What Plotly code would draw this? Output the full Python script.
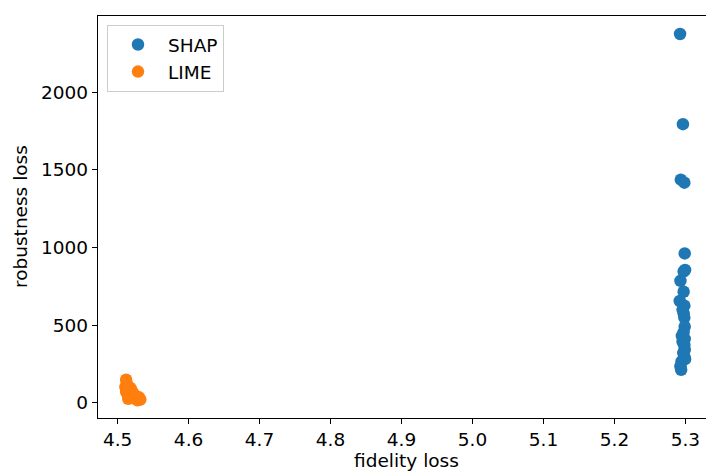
import plotly.graph_objects as go

# Loss values per explanation run
shap_fidelity = [5.2925, 5.2965, 5.2935, 5.2985, 5.2990, 5.2995, 5.2975, 5.2930, 5.2975,
                 5.2920, 5.2985, 5.2960, 5.2975, 5.2985, 5.2990, 5.2975, 5.2950, 5.2990,
                 5.2960, 5.2985, 5.2990, 5.2970, 5.2985, 5.2995, 5.2945, 5.2930, 5.2940]
shap_robustness = [2376, 1795, 1437, 1418, 962, 855, 845, 785, 715,
                   655, 625, 600, 575, 548, 490, 455, 430, 410,
                   392, 370, 340, 320, 295, 280, 265, 235, 212]

lime_fidelity = [4.512, 4.513, 4.511, 4.515, 4.512, 4.518, 4.520, 4.514, 4.516,
                 4.522, 4.525, 4.520, 4.530, 4.532, 4.528, 4.515]
lime_robustness = [148, 120, 100, 85, 70, 95, 75, 55, 40,
                   60, 45, 30, 35, 20, 15, 25]

x_ticks = [4.5, 4.6, 4.7, 4.8, 4.9, 5.0, 5.1, 5.2, 5.3]
y_ticks = [0, 500, 1000, 1500, 2000]

FONT = "DejaVu Sans"
FS = 18.5

fig = go.Figure()
fig.add_trace(go.Scatter(x=shap_fidelity, y=shap_robustness, mode="markers", name="SHAP",
                         legendgroup="a",
                         marker=dict(color="#1f77b4", size=12.5, line=dict(width=0))))
fig.add_trace(go.Scatter(x=lime_fidelity, y=lime_robustness, mode="markers", name="LIME",
                         legendgroup="b",
                         marker=dict(color="#ff7f0e", size=12.5, line=dict(width=0))))

axis_common = dict(showgrid=False, zeroline=False, ticks="outside", ticklen=5,
                   tickwidth=1.3, tickcolor="black", linecolor="black", linewidth=1.3,
                   showline=True, tickfont=dict(family=FONT, size=FS, color="black"))

fig.update_xaxes(range=[4.4724, 5.329], tickvals=x_ticks,
                 ticktext=[f"{v:.1f}" for v in x_ticks], mirror=True, **axis_common)
fig.update_yaxes(range=[-99, 2492], tickvals=y_ticks,
                 ticktext=[str(v) for v in y_ticks], mirror=False, **axis_common)

fig.add_annotation(text="fidelity loss", xref="paper", yref="paper",
                   x=(406.5 - 98) / 608, y=-(460 - 418) / 402, xanchor="center",
                   yanchor="middle", showarrow=False,
                   font=dict(family=FONT, size=FS, color="black"))
fig.add_annotation(text="robustness loss", xref="paper", yref="paper",
                   x=-(98 - 20) / 608, y=0.5, xanchor="center", yanchor="middle",
                   textangle=-90, showarrow=False,
                   font=dict(family=FONT, size=FS, color="black"))

fig.update_layout(
    width=706, height=472,
    margin=dict(l=98, r=0, t=16, b=54),
    plot_bgcolor="white", paper_bgcolor="white",
    showlegend=True,
    legend=dict(x=(107 - 98) / 608, y=1 - (25 - 16) / 402, xanchor="left", yanchor="top",
                bgcolor="rgba(255,255,255,0.8)", bordercolor="#cccccc", borderwidth=1,
                font=dict(family=FONT, size=FS, color="black"),
                itemwidth=50, tracegroupgap=0),
)

fig.write_html("out.html")
